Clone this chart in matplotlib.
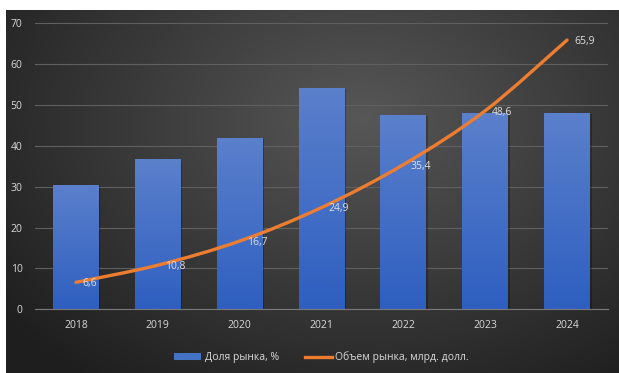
import numpy as np
import matplotlib
matplotlib.use("Agg")
import matplotlib.pyplot as plt
from matplotlib.path import Path
from matplotlib.patches import PathPatch, Rectangle
from matplotlib.colors import LinearSegmentedColormap

years = ["2018", "2019", "2020", "2021", "2022", "2023", "2024"]
share = [30.5, 36.7, 42.0, 54.1, 47.5, 48.1, 48.0]
volume = [6.6, 10.8, 16.7, 24.9, 35.4, 48.6, 65.9]
volume_labels = ["6,6", "10,8", "16,7", "24,9", "35,4", "48,6", "65,9"]
share_name = "Доля рынка, %"
volume_name = "Объем рынка, млрд. долл."

plt.rcParams["font.family"] = ["Open Sans", "DejaVu Sans"]
W, H = 619, 373
fig = plt.figure(figsize=(W / 100, H / 100), dpi=100)
fig.patch.set_facecolor("white")

# dark radial-gradient panel
bg = fig.add_axes([6 / W, 0, 1 - 6 / W, 1 - 10 / H])
bg.set_axis_off()
yy, xx = np.mgrid[0:1:300j, 0:1:500j]
r = np.sqrt(((xx - 0.58) / 0.75) ** 2 + ((yy - 0.3) / 0.9) ** 2)
r = np.clip(r, 0, 1)
cmap_bg = LinearSegmentedColormap.from_list("bg", ["#575757", "#3a3a3a", "#1e1e1e"])
bg.imshow(r, cmap=cmap_bg, aspect="auto", extent=[0, 1, 0, 1], origin="upper")
bg.set_xlim(0, 1)
bg.set_ylim(0, 1)

ax = fig.add_axes([35 / W, 1 - 309.3 / H, (608 - 35) / W, (309.3 - 23.3) / H])
ax.patch.set_alpha(0)
x = np.arange(len(years))
ax.set_ylim(0, 70)
ax.set_yticks(range(0, 71, 10))
ax.grid(axis="y", color="#606060", linewidth=0.8)
ax.set_axisbelow(True)
for s in ["top", "right", "left"]:
    ax.spines[s].set_visible(False)
ax.spines["bottom"].set_color("#7a7a7a")
ax.tick_params(length=0, colors="#d9d9d9", labelsize=7.5)
ax.tick_params(axis="x", pad=8)
ax.tick_params(axis="y", pad=9)
ax.set_xticks(x)
ax.set_xticklabels(years)

# bars with vertical gradient fill
bars = ax.bar(x, share, width=0.56, color="#4472c4", zorder=2, label=share_name)
cmap_bar = LinearSegmentedColormap.from_list("bar", ["#2e5fc0", "#5b80cc"])
grad = np.linspace(0, 1, 256).reshape(-1, 1)
for b in bars:
    bx, bw, bh = b.get_x(), b.get_width(), b.get_height()
    # soft shadow
    ax.add_patch(Rectangle((bx + 0.02, 0), bw, bh - 0.3, color="black", alpha=0.25,
                           zorder=1.5, linewidth=0))
    im = ax.imshow(grad, cmap=cmap_bar, extent=[bx, bx + bw, 0, bh], origin="lower",
                   aspect="auto", zorder=2.1)
    im.set_clip_path(b)
ax.set_aspect("auto")
ax.set_xlim(-0.5, len(years) - 0.5)
ax.set_ylim(0, 70)

# smoothed line (Catmull-Rom to cubic Bezier)
pts = np.column_stack([x, volume]).astype(float)
verts = [tuple(pts[0])]
codes = [Path.MOVETO]
n = len(pts)
for i in range(n - 1):
    p0 = pts[i - 1] if i > 0 else pts[i]
    p1, p2 = pts[i], pts[i + 1]
    p3 = pts[i + 2] if i + 2 < n else pts[i + 1]
    c1 = p1 + (p2 - p0) / 6
    c2 = p2 - (p3 - p1) / 6
    verts += [tuple(c1), tuple(c2), tuple(p2)]
    codes += [Path.CURVE4] * 3
ax.add_patch(PathPatch(Path(verts, codes), facecolor="none", edgecolor="#ed7d31",
                       linewidth=2.4, capstyle="round", zorder=3))
line_handle, = ax.plot([], [], color="#ed7d31", linewidth=2.4, label=volume_name)

for xi, v, t in zip(x, volume, volume_labels):
    ax.annotate(t, (xi, v), xytext=(5, -1), textcoords="offset points", ha="left",
                va="center", color="#e0e0e0", fontsize=7.5, zorder=4)

ax.legend(handles=[bars, line_handle], loc="upper center", bbox_to_anchor=(0.5, -0.115),
          ncol=2, frameon=False, fontsize=7.5, labelcolor="#d9d9d9", handlelength=2.6,
          handleheight=0.7, columnspacing=2.5, handletextpad=0.3)

fig.savefig("out.png", dpi=100, facecolor=fig.get_facecolor())
